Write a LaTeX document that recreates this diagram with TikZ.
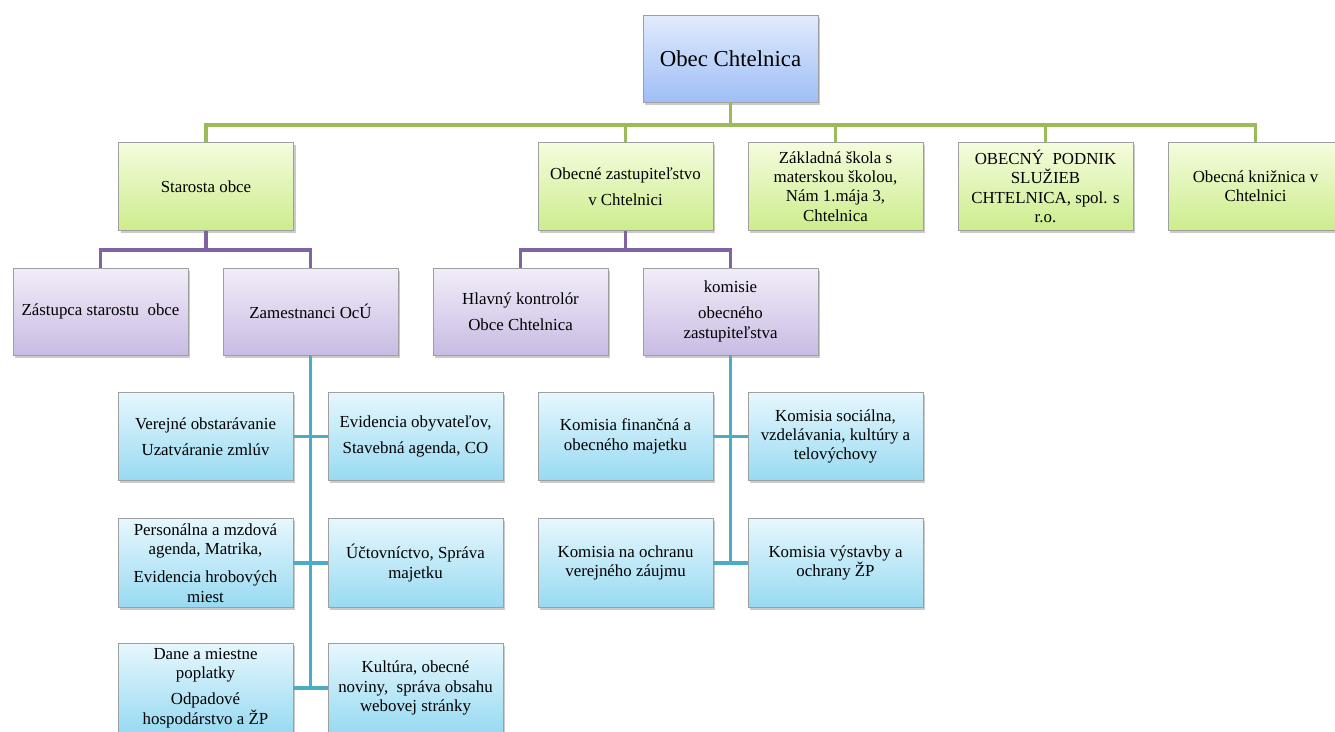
\documentclass[tikz,border=0pt]{standalone}
\usepackage{fontspec}
\setmainfont{Liberation Serif}
\usetikzlibrary{shadows}

\definecolor{lineGreen}{HTML}{9BBB59}
\definecolor{linePurple}{HTML}{8064A2}
\definecolor{lineCyan}{HTML}{4BACC6}

\begin{document}
\begin{tikzpicture}[x=0.02cm,y=-0.02cm,
    orgbox/.style={draw=gray!75, line width=0.4pt, minimum width=3.5cm, minimum height=1.77cm,
      inner sep=1pt, align=center, font=\fontsize{9.6}{11}\selectfont,
      drop shadow={shadow xshift=1.2pt, shadow yshift=-1.5pt, opacity=0.35, fill=black!60}},
    bluebox/.style={orgbox, top color={rgb,255:red,226;green,235;blue,252}, bottom color={rgb,255:red,158;green,190;blue,246},
      minimum height=1.74cm, font=\fontsize{13}{15}\selectfont},
    greenbox/.style={orgbox, top color={rgb,255:red,244;green,252;blue,222}, bottom color={rgb,255:red,204;green,237;blue,140}},
    purplebox/.style={orgbox, top color={rgb,255:red,242;green,237;blue,249}, bottom color={rgb,255:red,201;green,187;blue,227},
      minimum height=1.74cm},
    cyanbox/.style={orgbox, top color={rgb,255:red,230;green,247;blue,253}, bottom color={rgb,255:red,152;green,218;blue,242}},
    greenline/.style={draw=lineGreen, line width=2.2pt},
    purpleline/.style={draw=linePurple, line width=2.2pt},
    cyanline/.style={draw=lineCyan, line width=2.2pt}]
    \useasboundingbox (0,0) rectangle (1335,731);

    \coordinate (gbus) at (730.5,125);
    \coordinate (pbus1) at (206,250);
    \coordinate (pbus2) at (625.5,250);

    \node[bluebox] (obec) at (730.5,58.5) {Obec Chtelnica};

    \node[greenbox] (starosta) at (206,186.5) {Starosta obce};
    \node[greenbox] (zastup) at (625.5,186.5) {Obecné zastupiteľstvo\\[3.7pt] v Chtelnici};
    \node[greenbox] (skola) at (835.5,186.5) {Základná škola s\\ materskou školou,\\ Nám 1.mája 3,\\ Chtelnica};
    \node[greenbox] (podnik) at (1045.5,186.5) {OBECNÝ~~PODNIK\\ SLUŽIEB\\ CHTELNICA, spol. s\\ r.o.};
    \node[greenbox] (kniznica) at (1255.5,186.5) {Obecná knižnica v\\ Chtelnici};

    \node[purplebox] (zastupca) at (100.5,311.5) {Zástupca starostu~~obce};
    \node[purplebox] (zamestnanci) at (310.5,311.5) {Zamestnanci OcÚ};
    \node[purplebox] (kontrolor) at (520.5,311.5) {Hlavný kontrolór\\[3.7pt] Obce Chtelnica};
    \node[purplebox] (komisie) at (730.5,311.5) {komisie\\[3.7pt] obecného\\ zastupiteľstva};

    % zamestnanci OcU
    \node[cyanbox] (verejne) at (205.5,436.5) {Verejné obstarávanie\\[3.7pt] Uzatváranie zmlúv};
    \node[cyanbox] (evidencia) at (415.5,436.5) {Evidencia obyvateľov,\\[3.7pt] Stavebná agenda, CO};
    \node[cyanbox] (personalna) at (205.5,563) {Personálna a mzdová\\ agenda, Matrika,\\[5pt] Evidencia hrobových\\ miest};
    \node[cyanbox] (uctovnictvo) at (415.5,563) {Účtovníctvo, Správa\\ majetku};
    \node[cyanbox] (dane) at (205.5,688) {Dane a miestne\\ poplatky\\[3.7pt] Odpadové\\ hospodárstvo a ŽP};
    \node[cyanbox] (kultura) at (415.5,688) {Kultúra, obecné\\ noviny,~~správa obsahu\\ webovej stránky};

    % komisie
    \node[cyanbox] (financna) at (625.5,436.5) {Komisia finančná a\\ obecného majetku};
    \node[cyanbox] (socialna) at (835.5,436.5) {Komisia sociálna,\\ vzdelávania, kultúry a\\ telovýchovy};
    \node[cyanbox] (ochrana) at (625.5,563) {Komisia na ochranu\\ verejného záujmu};
    \node[cyanbox] (vystavba) at (835.5,563) {Komisia výstavby a\\ ochrany ŽP};

    \draw[greenline] (obec.south) -- (gbus);
    \foreach \n in {starosta,zastup,skola,podnik,kniznica}
      \draw[greenline] (gbus) -| (\n.north);

    \draw[purpleline] (starosta.south) -- (pbus1);
    \draw[purpleline] (pbus1) -| (zastupca.north);
    \draw[purpleline] (pbus1) -| (zamestnanci.north);
    \draw[purpleline] (zastup.south) -- (pbus2);
    \draw[purpleline] (pbus2) -| (kontrolor.north);
    \draw[purpleline] (pbus2) -| (komisie.north);

    \draw[cyanline] (zamestnanci.south) -- (zamestnanci.south |- dane.east);
    \draw[cyanline] (verejne.east) -- (evidencia.west);
    \draw[cyanline] (personalna.east) -- (uctovnictvo.west);
    \draw[cyanline] (dane.east) -- (kultura.west);

    \draw[cyanline] (komisie.south) -- (komisie.south |- ochrana.east);
    \draw[cyanline] (financna.east) -- (socialna.west);
    \draw[cyanline] (ochrana.east) -- (vystavba.west);
  \end{tikzpicture}
\end{document}
